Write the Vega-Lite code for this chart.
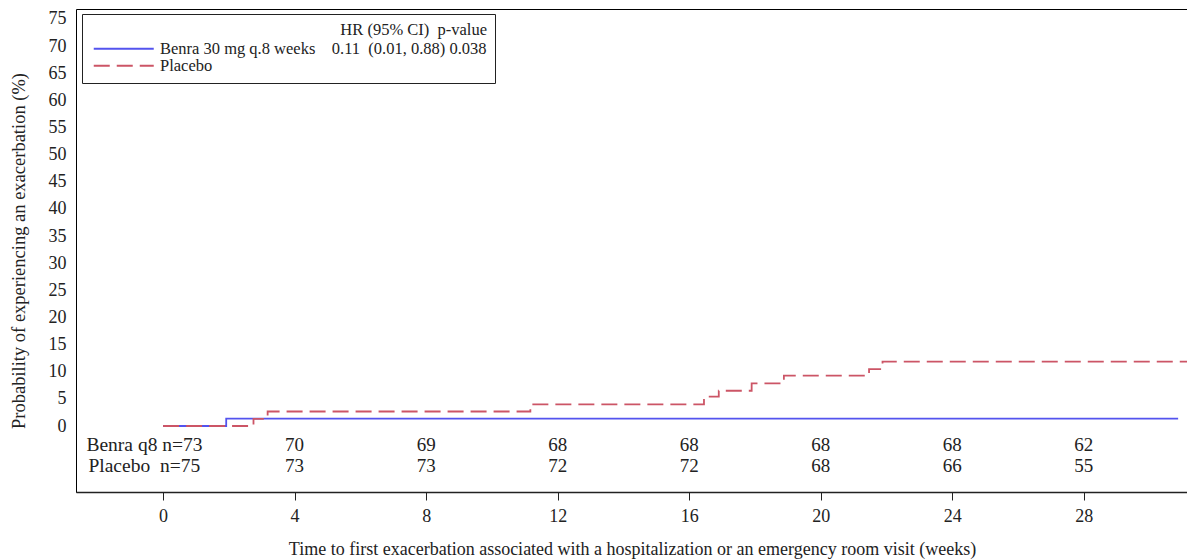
{
  "$schema": "https://vega.github.io/schema/vega-lite/v6.json",
  "autosize": "none",
  "padding": {"left": 76, "top": 9, "right": 0, "bottom": 67},
  "width": 1112,
  "height": 483,
  "background": "white",
  "config": {
    "font": "Liberation Serif",
    "view": {"stroke": "black", "strokeWidth": 1},
    "axis": {"labelFont": "Liberation Serif", "titleFont": "Liberation Serif", "labelColor": "#222", "titleColor": "#222", "titleFontWeight": "normal", "grid": false},
    "axisX": {"labelFontSize": 18, "titleFontSize": 18, "tickSize": 8, "tickColor": "#222", "domainColor": "#222", "domainWidth": 1.5, "labelPadding": 7, "titlePadding": 15},
    "axisY": {"labelOverlap": false, "labelFontSize": 18, "titleFontSize": 18.5, "ticks": false, "domain": false, "labelPadding": 10, "titlePadding": 20},
    "legend": {"labelFont": "Liberation Serif", "titleFont": "Liberation Serif"},
    "text": {"font": "Liberation Serif"}
  },
  "datasets": {
    "curves": [
      {"group": "Benra 30 mg q.8 weeks", "week": 0, "pct": 0},
      {"group": "Benra 30 mg q.8 weeks", "week": 1.92, "pct": 1.37},
      {"group": "Benra 30 mg q.8 weeks", "week": 30.87, "pct": 1.37},
      {"group": "Placebo", "week": 0, "pct": 0},
      {"group": "Placebo", "week": 2.75, "pct": 1.33},
      {"group": "Placebo", "week": 3.18, "pct": 2.67},
      {"group": "Placebo", "week": 11.17, "pct": 4.0},
      {"group": "Placebo", "week": 16.45, "pct": 5.4},
      {"group": "Placebo", "week": 16.9, "pct": 6.5},
      {"group": "Placebo", "week": 17.9, "pct": 7.85},
      {"group": "Placebo", "week": 18.88, "pct": 9.27},
      {"group": "Placebo", "week": 21.47, "pct": 10.5},
      {"group": "Placebo", "week": 21.88, "pct": 11.85},
      {"group": "Placebo", "week": 31.3, "pct": 11.85}
    ],
    "risk": [
      {"row": "Benra", "week": 4, "n": "70"},
      {"row": "Benra", "week": 8, "n": "69"},
      {"row": "Benra", "week": 12, "n": "68"},
      {"row": "Benra", "week": 16, "n": "68"},
      {"row": "Benra", "week": 20, "n": "68"},
      {"row": "Benra", "week": 24, "n": "68"},
      {"row": "Benra", "week": 28, "n": "62"},
      {"row": "Placebo", "week": 4, "n": "73"},
      {"row": "Placebo", "week": 8, "n": "73"},
      {"row": "Placebo", "week": 12, "n": "72"},
      {"row": "Placebo", "week": 16, "n": "72"},
      {"row": "Placebo", "week": 20, "n": "68"},
      {"row": "Placebo", "week": 24, "n": "66"},
      {"row": "Placebo", "week": 28, "n": "55"}
    ],
    "riskLabels": [
      {"row": "Benra", "label": "Benra q8 n=73"},
      {"row": "Placebo", "label": "Placebo\u00a0\u00a0n=75"}
    ]
  },
  "layer": [
    {
      "data": {"name": "curves"},
      "mark": {"type": "line", "interpolate": "step-after", "clip": true, "strokeWidth": 1.8},
      "encoding": {
        "x": {"field": "week", "type": "quantitative",
          "scale": {"domain": [-2.648, 31.17], "nice": false, "zero": false},
          "axis": {"values": [0, 4, 8, 12, 16, 20, 24, 28], "labelFont": "Liberation Serif", "labelFontSize": 18, "title": "Time to first exacerbation associated with a hospitalization or an emergency room visit (weeks)"}},
        "y": {"field": "pct", "type": "quantitative",
          "scale": {"domain": [-12.16, 76.84], "nice": false, "zero": false},
          "axis": {"values": [0, 5, 10, 15, 20, 25, 30, 35, 40, 45, 50, 55, 60, 65, 70, 75], "labelOverlap": false, "labelFont": "Liberation Serif", "titleFont": "Liberation Serif", "labelFontSize": 18, "titleFontSize": 18.5, "title": "Probability of experiencing an exacerbation (%)"}},
        "color": {"field": "group", "type": "nominal",
          "scale": {"domain": ["Benra 30 mg q.8 weeks", "Placebo"], "range": ["#5353ee", "#cc5566"]},
          "legend": {"title": "HR (95% CI)\u00a0\u00a0p-value", "orient": "none", "legendX": 6, "legendY": 5,
            "titleAnchor": "end", "titleFontSize": 16.5, "titleFont": "Liberation Serif", "titleFontWeight": "normal", "titleColor": "#222",
            "labelFontSize": 16.5, "labelFont": "Liberation Serif", "labelColor": "#222", "labelLimit": 0,
            "symbolType": "M-4.286,0H4.286", "symbolSize": 196, "symbolStrokeWidth": 1.8, "symbolOffset": 25.5,
            "strokeColor": "#222", "fillColor": "white", "padding": 8, "rowPadding": 0, "titlePadding": 2, "labelOffset": 28,
            "labelExpr": "datum.label == 'Placebo' ? 'Placebo' : 'Benra 30 mg q.8 weeks\u00a0\u00a0\u00a0\u00a00.11\u00a0\u00a0(0.01, 0.88) 0.038'"}},
        "strokeDash": {"field": "group", "type": "nominal",
          "scale": {"domain": ["Benra 30 mg q.8 weeks", "Placebo"], "range": [[1, 0], [16, 7]]},
          "legend": {"title": "HR (95% CI)\u00a0\u00a0p-value", "orient": "none", "legendX": 6, "legendY": 5,
            "titleAnchor": "end", "titleFontSize": 16.5, "titleFont": "Liberation Serif", "titleFontWeight": "normal", "titleColor": "#222",
            "labelFontSize": 16.5, "labelFont": "Liberation Serif", "labelColor": "#222", "labelLimit": 0,
            "symbolType": "M-4.286,0H4.286", "symbolSize": 196, "symbolStrokeWidth": 1.8, "symbolOffset": 25.5,
            "strokeColor": "#222", "fillColor": "white", "padding": 8, "rowPadding": 0, "titlePadding": 2, "labelOffset": 28,
            "labelExpr": "datum.label == 'Placebo' ? 'Placebo' : 'Benra 30 mg q.8 weeks\u00a0\u00a0\u00a0\u00a00.11\u00a0\u00a0(0.01, 0.88) 0.038'"}}
      }
    },
    {
      "data": {"name": "risk"},
      "transform": [{"filter": "datum.row == 'Benra'"}],
      "mark": {"type": "text", "font": "Liberation Serif", "fontSize": 19, "color": "#222", "baseline": "middle", "align": "center"},
      "encoding": {
        "x": {"field": "week", "type": "quantitative", "axis": {"values": [0, 4, 8, 12, 16, 20, 24, 28], "labelFont": "Liberation Serif", "labelFontSize": 18, "title": "Time to first exacerbation associated with a hospitalization or an emergency room visit (weeks)"}},
        "y": {"datum": -3.5, "type": "quantitative", "axis": {"values": [0, 5, 10, 15, 20, 25, 30, 35, 40, 45, 50, 55, 60, 65, 70, 75], "labelOverlap": false, "labelFont": "Liberation Serif", "titleFont": "Liberation Serif", "labelFontSize": 18, "titleFontSize": 18.5, "title": "Probability of experiencing an exacerbation (%)"}},
        "text": {"field": "n"}
      }
    },
    {
      "data": {"name": "risk"},
      "transform": [{"filter": "datum.row == 'Placebo'"}],
      "mark": {"type": "text", "font": "Liberation Serif", "fontSize": 19, "color": "#222", "baseline": "middle", "align": "center"},
      "encoding": {
        "x": {"field": "week", "type": "quantitative", "axis": {"values": [0, 4, 8, 12, 16, 20, 24, 28], "labelFont": "Liberation Serif", "labelFontSize": 18, "title": "Time to first exacerbation associated with a hospitalization or an emergency room visit (weeks)"}},
        "y": {"datum": -7.4, "type": "quantitative", "axis": {"values": [0, 5, 10, 15, 20, 25, 30, 35, 40, 45, 50, 55, 60, 65, 70, 75], "labelOverlap": false, "labelFont": "Liberation Serif", "titleFont": "Liberation Serif", "labelFontSize": 18, "titleFontSize": 18.5, "title": "Probability of experiencing an exacerbation (%)"}},
        "text": {"field": "n"}
      }
    },
    {
      "data": {"name": "riskLabels"},
      "transform": [{"filter": "datum.row == 'Benra'"}],
      "mark": {"type": "text", "font": "Liberation Serif", "fontSize": 19.5, "color": "#222", "baseline": "middle", "align": "left"},
      "encoding": {
        "x": {"datum": -2.33, "type": "quantitative", "axis": {"values": [0, 4, 8, 12, 16, 20, 24, 28], "labelFont": "Liberation Serif", "labelFontSize": 18, "title": "Time to first exacerbation associated with a hospitalization or an emergency room visit (weeks)"}},
        "y": {"datum": -3.5, "type": "quantitative", "axis": {"values": [0, 5, 10, 15, 20, 25, 30, 35, 40, 45, 50, 55, 60, 65, 70, 75], "labelOverlap": false, "labelFont": "Liberation Serif", "titleFont": "Liberation Serif", "labelFontSize": 18, "titleFontSize": 18.5, "title": "Probability of experiencing an exacerbation (%)"}},
        "text": {"field": "label"}
      }
    },
    {
      "data": {"name": "riskLabels"},
      "transform": [{"filter": "datum.row == 'Placebo'"}],
      "mark": {"type": "text", "font": "Liberation Serif", "fontSize": 19.5, "color": "#222", "baseline": "middle", "align": "left"},
      "encoding": {
        "x": {"datum": -2.27, "type": "quantitative", "axis": {"values": [0, 4, 8, 12, 16, 20, 24, 28], "labelFont": "Liberation Serif", "labelFontSize": 18, "title": "Time to first exacerbation associated with a hospitalization or an emergency room visit (weeks)"}},
        "y": {"datum": -7.4, "type": "quantitative", "axis": {"values": [0, 5, 10, 15, 20, 25, 30, 35, 40, 45, 50, 55, 60, 65, 70, 75], "labelOverlap": false, "labelFont": "Liberation Serif", "titleFont": "Liberation Serif", "labelFontSize": 18, "titleFontSize": 18.5, "title": "Probability of experiencing an exacerbation (%)"}},
        "text": {"field": "label"}
      }
    }
  ]
}
